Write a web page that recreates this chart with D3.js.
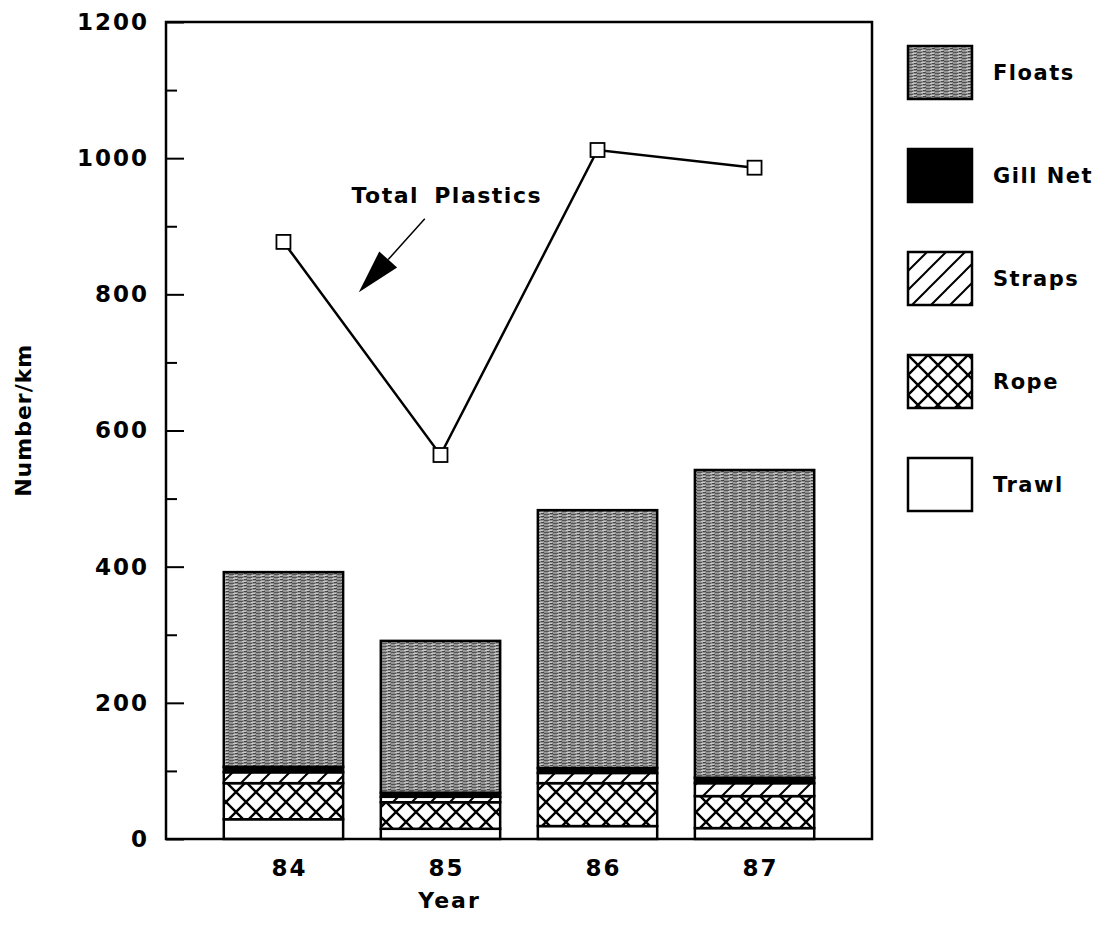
<!DOCTYPE html>
<html>
<head>
<meta charset="utf-8">
<script src="https://cdn.jsdelivr.net/npm/d3@7"></script>
<style>
  html, body { margin: 0; padding: 0; background: #fff; }
  svg { display: block; font-family: "DejaVu Sans", sans-serif; font-weight: bold; }
</style>
</head>
<body>
<svg id="chart" width="1107" height="925"></svg>
<script>
// Beach debris by year, stacked by type, with total plastics line
const years = ["84", "85", "86", "87"];
const trawl = [29, 15, 19, 16];
const rope = [53, 39, 63, 47];
const straps = [16, 8, 15, 19];
const gillNet = [8, 6, 7, 8];
const floats = [286, 223, 379, 452];
const totalPlastics = [877, 564, 1012, 986];

const majorTicks = [0, 200, 400, 600, 800, 1000, 1200];
const minorTicks = [100, 300, 500, 700, 900, 1100];

const keys = ["Trawl", "Rope", "Straps", "Gill Net", "Floats"];
const legendOrder = ["Floats", "Gill Net", "Straps", "Rope", "Trawl"];

// annotation, in data units (year, value)
const noteText = "Total Plastics";
const notePos = { year: 85.04, value: 934 };
const arrowTail = { year: 84.90, value: 911 };
const arrowTip = { year: 84.48, value: 803 };

const rows = years.map((yr, i) => ({
  year: yr,
  "Trawl": trawl[i],
  "Rope": rope[i],
  "Straps": straps[i],
  "Gill Net": gillNet[i],
  "Floats": floats[i]
}));

const W = 1107, H = 925;
const margin = { top: 22, right: 235, bottom: 86, left: 166 };
const innerW = W - margin.left - margin.right;
const innerH = H - margin.top - margin.bottom;

const svg = d3.select("#chart");

// patterns
const defs = svg.append("defs");

const pFloats = defs.append("pattern")
  .attr("id", "p-floats").attr("patternUnits", "userSpaceOnUse")
  .attr("width", 9).attr("height", 3);
pFloats.append("rect").attr("width", 9).attr("height", 3).attr("fill", "#939393");
pFloats.append("rect").attr("x", 0).attr("y", 0).attr("width", 5).attr("height", 1).attr("fill", "#555");
pFloats.append("rect").attr("x", 4).attr("y", 1).attr("width", 4).attr("height", 1).attr("fill", "#cacaca");
pFloats.append("rect").attr("x", 6).attr("y", 2).attr("width", 3).attr("height", 1).attr("fill", "#444");

const pRope = defs.append("pattern")
  .attr("id", "p-rope").attr("patternUnits", "userSpaceOnUse")
  .attr("width", 20).attr("height", 20);
pRope.append("rect").attr("width", 20).attr("height", 20).attr("fill", "#fff");
pRope.append("path")
  .attr("d", "M0,0L20,20M20,0L0,20")
  .attr("stroke", "#000").attr("stroke-width", 2.4);

const pStraps = defs.append("pattern")
  .attr("id", "p-straps").attr("patternUnits", "userSpaceOnUse")
  .attr("width", 19).attr("height", 19);
pStraps.append("rect").attr("width", 19).attr("height", 19).attr("fill", "#fff");
pStraps.append("path")
  .attr("d", "M0,19L19,0M-3,3L3,-3M16,22L22,16")
  .attr("stroke", "#000").attr("stroke-width", 2);

const fills = {
  "Trawl": "#fff",
  "Rope": "url(#p-rope)",
  "Straps": "url(#p-straps)",
  "Gill Net": "#000",
  "Floats": "url(#p-floats)"
};

const g = svg.append("g").attr("transform", `translate(${margin.left},${margin.top})`);

const x = d3.scaleBand()
  .domain(years)
  .range([0, innerW])
  .paddingInner(0.24)
  .paddingOuter(0.368);

const y = d3.scaleLinear().domain([0, 1200]).range([innerH, 0]);

// continuous helper for annotation placement
const xc = d3.scaleLinear()
  .domain([84, 87])
  .range([x("84") + x.bandwidth() / 2, x("87") + x.bandwidth() / 2]);

// stacked bars
const series = d3.stack().keys(keys)(rows);

g.append("g")
  .selectAll("g")
  .data(series)
  .join("g")
  .attr("fill", d => fills[d.key])
  .selectAll("rect")
  .data(d => d)
  .join("rect")
  .attr("x", d => x(d.data.year))
  .attr("width", x.bandwidth())
  .attr("y", d => y(d[1]))
  .attr("height", d => y(d[0]) - y(d[1]))
  .attr("stroke", "#000")
  .attr("stroke-width", 2.5);

// frame
g.append("rect")
  .attr("width", innerW).attr("height", innerH)
  .attr("fill", "none").attr("stroke", "#000").attr("stroke-width", 2.5);

// y axis: ticks pointing inward
const yAxis = g.append("g")
  .call(d3.axisLeft(y).tickValues(majorTicks).tickFormat(d3.format("d")).tickSize(-18).tickPadding(17));
yAxis.select(".domain").remove();
yAxis.selectAll("line").attr("stroke-width", 2);
yAxis.selectAll("text")
  .attr("font-size", 23)
  .attr("font-family", "DejaVu Sans, sans-serif")
  .attr("font-weight", "bold")
  .attr("letter-spacing", 2)
  .attr("fill", "#000");

const yMinor = g.append("g")
  .call(d3.axisLeft(y).tickValues(minorTicks).tickSize(-11).tickFormat(""));
yMinor.select(".domain").remove();
yMinor.selectAll("line").attr("stroke-width", 2);

// x labels
g.append("g")
  .selectAll("text")
  .data(years)
  .join("text")
  .attr("x", d => x(d) + x.bandwidth() / 2 + 6)
  .attr("y", innerH + 37)
  .attr("text-anchor", "middle")
  .attr("font-size", 23)
  .attr("letter-spacing", 2)
  .text(d => d);

// axis titles
g.append("text")
  .attr("x", xc(85) + 9)
  .attr("y", innerH + 69)
  .attr("text-anchor", "middle")
  .attr("font-size", 22)
  .attr("letter-spacing", 2)
  .text("Year");

g.append("text")
  .attr("transform", `translate(${-margin.left + 31},${y(615)}) rotate(-90)`)
  .attr("text-anchor", "middle")
  .attr("font-size", 22)
  .attr("letter-spacing", 1)
  .text("Number/km");

// total plastics line
const line = d3.line()
  .x((d, i) => x(years[i]) + x.bandwidth() / 2)
  .y(d => y(d));

g.append("path")
  .datum(totalPlastics)
  .attr("fill", "none")
  .attr("stroke", "#000")
  .attr("stroke-width", 2.5)
  .attr("d", line);

g.append("g")
  .selectAll("rect")
  .data(totalPlastics)
  .join("rect")
  .attr("x", (d, i) => x(years[i]) + x.bandwidth() / 2 - 7)
  .attr("y", d => y(d) - 7)
  .attr("width", 14)
  .attr("height", 14)
  .attr("fill", "#fff")
  .attr("stroke", "#000")
  .attr("stroke-width", 1.8);

// annotation
g.append("text")
  .attr("x", xc(notePos.year))
  .attr("y", y(notePos.value))
  .attr("text-anchor", "middle")
  .attr("font-size", 22)
  .attr("letter-spacing", 1.5)
  .attr("word-spacing", 6)
  .text(noteText);

const tx = xc(arrowTail.year), ty = y(arrowTail.value);
const px = xc(arrowTip.year), py = y(arrowTip.value);
const len = Math.hypot(px - tx, py - ty);
const ux = (px - tx) / len, uy = (py - ty) / len;
const headLen = 44, headHalf = 12;
const bx = px - ux * headLen, by = py - uy * headLen;

g.append("line")
  .attr("x1", tx).attr("y1", ty).attr("x2", bx).attr("y2", by)
  .attr("stroke", "#000").attr("stroke-width", 1.5);

g.append("path")
  .attr("d", d3.line()([
    [px, py],
    [bx - uy * headHalf, by + ux * headHalf],
    [bx + uy * headHalf, by - ux * headHalf]
  ]) + "Z")
  .attr("fill", "#000");

// legend
const legend = svg.append("g")
  .attr("transform", `translate(${margin.left + innerW + 36},${margin.top + 24})`);

const item = legend.selectAll("g")
  .data(legendOrder)
  .join("g")
  .attr("transform", (d, i) => `translate(0,${i * 103})`);

item.append("rect")
  .attr("width", 64)
  .attr("height", 53)
  .attr("fill", d => fills[d])
  .attr("stroke", "#000")
  .attr("stroke-width", 2.5);

item.append("text")
  .attr("x", 85)
  .attr("y", 27)
  .attr("dy", "0.35em")
  .attr("font-size", 21)
  .attr("letter-spacing", 1.5)
  .text(d => d);
</script>
</body>
</html>
